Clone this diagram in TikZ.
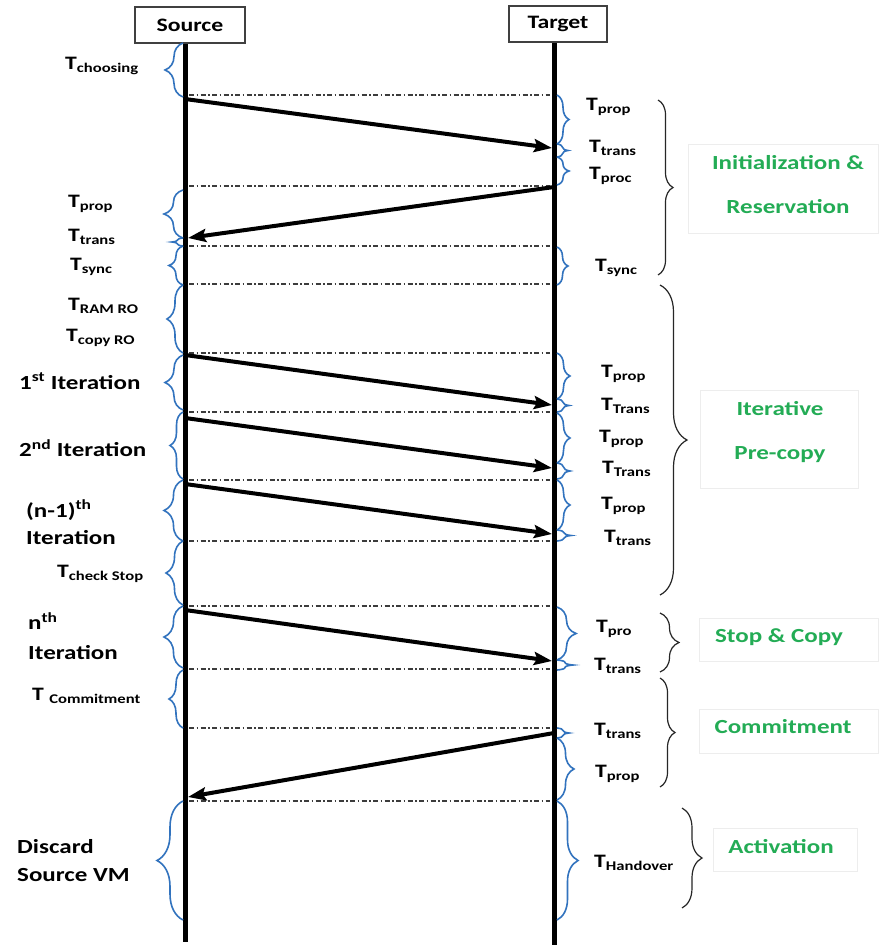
\documentclass[tikz,border=0pt]{standalone}
\usepackage{fontspec}
\setmainfont{Carlito}[FakeStretch=1.25]
\usetikzlibrary{arrows.meta,decorations.pathreplacing}
\definecolor{bracecol}{RGB}{50,115,190}
\definecolor{phase}{RGB}{35,172,85}
\definecolor{dashcol}{RGB}{60,60,60}
\newcommand{\Ts}[1]{T\textsubscript{#1}}
\tikzset{
  lifebox/.style={draw=black!75,line width=1.1pt,fill=white,font=\fontsize{19}{22}\selectfont\bfseries,inner sep=0},
  life/.style={line width=5pt,black},
  msg/.style={line width=4pt,-{Stealth[length=18pt,width=13pt,inset=3pt]}},
  sepline/.style={dashcol,line width=1.2pt,dash pattern=on 5pt off 2.5pt on 1.5pt off 2.5pt},
  bbrace/.style={decorate,decoration={brace,amplitude=#1},bracecol,line width=1.6pt},
  kbrace/.style={decorate,decoration={brace,amplitude=#1},black!85,line width=1.2pt},
  lbl/.style={font=\fontsize{19}{21}\selectfont\bfseries,anchor=west,inner sep=0},
  big/.style={font=\fontsize{20}{27}\selectfont\bfseries,anchor=west,inner sep=0,align=left},
  grn/.style={font=\fontsize{20}{44}\selectfont\bfseries,text=phase,align=center,inner sep=0},
  faint/.style={draw=black!7,line width=0.6pt}
}
\begin{document}
\begin{tikzpicture}[x=1pt,y=-1pt]
\useasboundingbox (0,0) rectangle (880,947);
\fill[white] (0,0) rectangle (880,947);

% faint text boxes
\draw[faint] (688,144) rectangle (878,233);
\draw[faint] (700,390) rectangle (858,488);
\draw[faint] (699,618) rectangle (878,661);
\draw[faint] (699,709) rectangle (878,753);
\draw[faint] (713,828) rectangle (857,871);

% lifelines
\coordinate (s0) at (185,43);
\coordinate (s1) at (185,942);
\coordinate (t0) at (554,42);
\coordinate (t1) at (554,945);
\draw[life] (s0) -- (s1);
\draw[life] (t0) -- (t1);
\node[lifebox,minimum width=110pt,minimum height=36pt] (src) at (190,25) {Source};
\node[lifebox,minimum width=98pt,minimum height=36pt] (tgt) at (558,24) {Target};

% separator lines
\foreach \y/\n in {95/a,186/b,246/c,284/d,353/e,412/f,480/g,541/h,606/i,669/j,728/k,801/l}{
  \coordinate (L\n) at (189,\y);
  \coordinate (R\n) at (550,\y);
  \draw[sepline] (L\n) -- (R\n);
}

% messages
\coordinate (a1s) at (185,99);  \coordinate (a1e) at (552,148);
\coordinate (a2s) at (554,187); \coordinate (a2e) at (188,238);
\coordinate (a3s) at (185,355); \coordinate (a3e) at (552,405);
\coordinate (a4s) at (185,418); \coordinate (a4e) at (552,468);
\coordinate (a5s) at (185,484); \coordinate (a5e) at (552,534);
\coordinate (a6s) at (185,610); \coordinate (a6e) at (552,661);
\coordinate (a7s) at (554,733); \coordinate (a7e) at (188,797);
\foreach \i in {1,...,7}{\draw[msg] (a\i s) -- (a\i e);}

% blue braces on source side (tip left)
\foreach \a/\b/\amp in {97/43/18, 238/190/19, 246/238/11, 285/246/14, 353/285/16,
  410/355/18, 479/412/13, 541/480/19, 605/541/17, 668/606/19, 728/670/14, 920/801/26}{
  \draw[bbrace=\amp] (183,\a) -- (183,\b);
}
% blue braces on target side (tip right)
\foreach \a/\b/\amp in {95/144/12, 144/157/11, 157/185/12, 247/285/11,
  353/399/13, 399/412/12, 413/463/13, 463/479/13, 480/530/13, 530/541/14,
  607/660/19, 660/670/16, 728/738/12, 738/800/17, 801/920/21}{
  \draw[bbrace=\amp] (557,\a) -- (557,\b);
}

% black phase braces
\draw[kbrace=15] (658,100) -- (658,275);
\draw[kbrace=27] (660,285) -- (660,595);
\draw[kbrace=19] (660,613) -- (660,672);
\draw[kbrace=15] (660,678) -- (660,787);
\draw[kbrace=20] (682,808) -- (682,908);

% left labels
\node[lbl] (lchoose) at (65,66) {\Ts{choosing}};
\node[lbl] (lprop) at (68,204) {\Ts{prop}};
\node[lbl] (ltrans) at (68,237) {\Ts{trans}};
\node[lbl] (lsync) at (70,267) {\Ts{sync}};
\node[lbl] (lram) at (68,306) {\Ts{RAM RO}};
\node[lbl] (lcopy) at (66,338) {\Ts{copy RO}};
\node[big] (it1) at (19,381) {1\textsuperscript{st} Iteration};
\node[big] (it2) at (19,448) {2\textsuperscript{nd} Iteration};
\node[big] (itn1) at (26,522) {(n-1)\textsuperscript{th}\\Iteration};
\node[lbl] (lcheck) at (57,574) {\Ts{check Stop}};
\node[big,font=\fontsize{20}{30}\selectfont\bfseries] (itn) at (28,636) {n\textsuperscript{th}\\Iteration};
\node[lbl] (lcommit) at (32,696) {T \textsubscript{Commitment}};
\node[big,font=\fontsize{20}{28}\selectfont\bfseries] (discard) at (17,861) {Discard\\Source VM};

% right labels
\node[lbl] (rprop1) at (586,107) {\Ts{prop}};
\node[lbl] (rtrans1) at (589,148) {\Ts{trans}};
\node[lbl] (rproc) at (589,176) {\Ts{proc}};
\node[lbl] (rsync) at (595,268) {\Ts{sync}};
\node[lbl] (rprop2) at (601,374) {\Ts{prop}};
\node[lbl] (rTrans2) at (601,406) {\Ts{Trans}};
\node[lbl] (rprop3) at (599,439) {\Ts{prop}};
\node[lbl] (rTrans3) at (602,469) {\Ts{Trans}};
\node[lbl] (rprop4) at (601,506) {\Ts{prop}};
\node[lbl] (rtrans4) at (604,538) {\Ts{trans}};
\node[lbl] (rpro) at (596,629) {\Ts{pro}};
\node[lbl] (rtrans5) at (594,666) {\Ts{trans}};
\node[lbl] (rtrans6) at (594,731) {\Ts{trans}};
\node[lbl] (rprop6) at (595,774) {\Ts{prop}};
\node[lbl] (rhand) at (594,863) {\Ts{Handover}};

% phase labels
\node[grn] (init) at (788,185) {Initialization \&\\Reservation};
\node[grn] (iter) at (780,432) {Iterative\\Pre-copy};
\node[grn] (stop) at (779,637) {Stop \& Copy};
\node[grn] (commit) at (783,727) {Commitment};
\node[grn] (act) at (781,847) {Activation};
\end{tikzpicture}
\end{document}
